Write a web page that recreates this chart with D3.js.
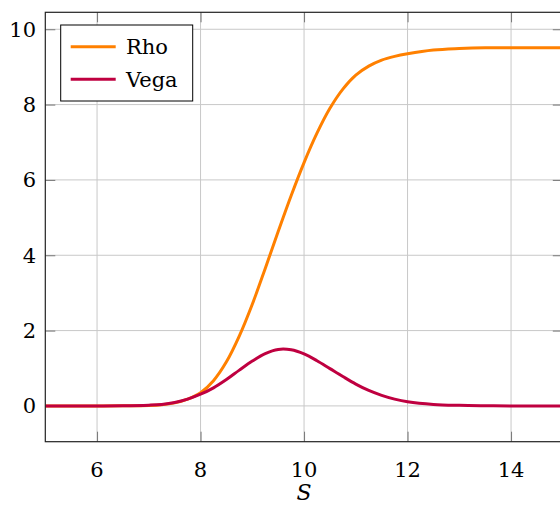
<!DOCTYPE html>
<html>
<head>
<meta charset="utf-8">
<script src="https://cdn.jsdelivr.net/npm/d3@7"></script>
<style>
  body { margin: 0; background: #fff; }
  svg text { font-family: "DejaVu Serif", "Liberation Serif", serif; fill: #000; }
</style>
</head>
<body>
<div id="chart"></div>
<script>
// values
var sValues = [5, 5.5, 6, 6.5, 7, 7.25, 7.5, 7.75, 8, 8.25, 8.5, 8.75, 9, 9.25, 9.5, 9.75,
               10, 10.25, 10.5, 10.75, 11, 11.25, 11.5, 11.75, 12, 12.5, 13, 13.5, 14, 15];
var rhoValues = [0, 0, 0, 0.002, 0.01, 0.03, 0.08, 0.18, 0.35, 0.67, 1.17, 1.86, 2.70, 3.65, 4.63, 5.58,
                 6.46, 7.24, 7.90, 8.41, 8.78, 9.02, 9.18, 9.28, 9.35, 9.45, 9.49, 9.51, 9.51, 9.51];
var vegaValues = [0, 0, 0, 0.003, 0.02, 0.04, 0.09, 0.18, 0.31, 0.48, 0.7, 0.95, 1.19, 1.39, 1.5, 1.49,
                  1.38, 1.2, 0.99, 0.78, 0.58, 0.41, 0.28, 0.18, 0.11, 0.04, 0.015, 0.005, 0, 0];
var seriesNames = ["Rho", "Vega"];
var seriesColors = ["#ff8000", "#bf0040"];
var xTicks = [6, 8, 10, 12, 14];
var yTicks = [0, 2, 4, 6, 8, 10];

var width = 560, height = 506;
var plotLeft = 45.3, plotTop = 12.3, plotRight = 562.8, plotBottom = 441.7;

var svg = d3.select("#chart")
    .append("svg")
    .attr("width", width)
    .attr("height", height);

var x = d3.scaleLinear().domain([5, 15]).range([plotLeft, plotRight]);
var y = d3.scaleLinear().domain([-0.95, 10.45]).range([plotBottom, plotTop]);

// grid
svg.append("g")
    .selectAll("line")
    .data(xTicks)
    .enter()
    .append("line")
    .attr("x1", function (d) { return x(d); })
    .attr("x2", function (d) { return x(d); })
    .attr("y1", plotTop)
    .attr("y2", plotBottom)
    .attr("stroke", "#c8c8c8")
    .attr("stroke-width", 1);

svg.append("g")
    .selectAll("line")
    .data(yTicks)
    .enter()
    .append("line")
    .attr("x1", plotLeft)
    .attr("x2", plotRight)
    .attr("y1", function (d) { return y(d); })
    .attr("y2", function (d) { return y(d); })
    .attr("stroke", "#c8c8c8")
    .attr("stroke-width", 1);

// inner ticks on all four sides
var tickLen = 10;
var xAxisBottom = d3.axisBottom(x).tickValues(xTicks).tickSize(-tickLen).tickFormat("");
var xAxisTop = d3.axisTop(x).tickValues(xTicks).tickSize(-tickLen).tickFormat("");
var yAxisLeft = d3.axisLeft(y).tickValues(yTicks).tickSize(-tickLen).tickFormat("");
var yAxisRight = d3.axisRight(y).tickValues(yTicks).tickSize(-tickLen).tickFormat("");

[[xAxisBottom, "translate(0," + plotBottom + ")"],
 [xAxisTop, "translate(0," + plotTop + ")"],
 [yAxisLeft, "translate(" + plotLeft + ",0)"],
 [yAxisRight, "translate(" + plotRight + ",0)"]].forEach(function (a) {
    var g = svg.append("g").attr("transform", a[1]).call(a[0]);
    g.select(".domain").remove();
    g.selectAll(".tick line").attr("stroke", "#777").attr("stroke-width", 1);
});

// curves
svg.append("clipPath").attr("id", "plotclip")
    .append("rect")
    .attr("x", plotLeft).attr("y", plotTop)
    .attr("width", plotRight - plotLeft).attr("height", plotBottom - plotTop);

var line = d3.line()
    .x(function (d) { return x(d[0]); })
    .y(function (d) { return y(d[1]); })
    .curve(d3.curveCatmullRom.alpha(0.5));

var series = [rhoValues, vegaValues];
svg.append("g")
    .attr("clip-path", "url(#plotclip)")
    .selectAll("path")
    .data(series)
    .enter()
    .append("path")
    .attr("d", function (vals) {
        return line(sValues.map(function (s, i) { return [s, vals[i]]; }));
    })
    .attr("fill", "none")
    .attr("stroke", function (d, i) { return seriesColors[i]; })
    .attr("stroke-width", 3)
    .attr("stroke-linejoin", "round");

// frame
svg.append("rect")
    .attr("x", plotLeft)
    .attr("y", plotTop)
    .attr("width", plotRight - plotLeft)
    .attr("height", plotBottom - plotTop)
    .attr("fill", "none")
    .attr("stroke", "#222")
    .attr("stroke-width", 1.2);

// tick labels
svg.append("g")
    .selectAll("text")
    .data(xTicks)
    .enter()
    .append("text")
    .attr("x", function (d) { return x(d); })
    .attr("y", 477)
    .attr("text-anchor", "middle")
    .attr("font-size", 21)
    .text(function (d) { return d; });

svg.append("g")
    .selectAll("text")
    .data(yTicks)
    .enter()
    .append("text")
    .attr("x", 36)
    .attr("y", function (d) { return y(d); })
    .attr("dy", "0.36em")
    .attr("text-anchor", "end")
    .attr("font-size", 21)
    .text(function (d) { return d; });

// axis label
svg.append("text")
    .attr("x", x(10))
    .attr("y", 500)
    .attr("text-anchor", "middle")
    .attr("font-size", 22)
    .attr("font-style", "italic")
    .text("S");

// legend
var legend = svg.append("g");
legend.append("rect")
    .attr("x", 60.7)
    .attr("y", 25)
    .attr("width", 132)
    .attr("height", 76)
    .attr("fill", "#fff")
    .attr("stroke", "#000")
    .attr("stroke-width", 1);

var rows = legend.selectAll("g.row")
    .data(seriesNames)
    .enter()
    .append("g")
    .attr("class", "row")
    .attr("transform", function (d, i) { return "translate(0," + (46.7 + i * 32.6) + ")"; });

rows.append("line")
    .attr("x1", 70.7)
    .attr("x2", 115.7)
    .attr("y1", 0)
    .attr("y2", 0)
    .attr("stroke", function (d, i) { return seriesColors[i]; })
    .attr("stroke-width", 3);

rows.append("text")
    .attr("x", 126)
    .attr("y", 0)
    .attr("dy", "0.36em")
    .attr("font-size", 21)
    .text(function (d) { return d; });
</script>
</body>
</html>
